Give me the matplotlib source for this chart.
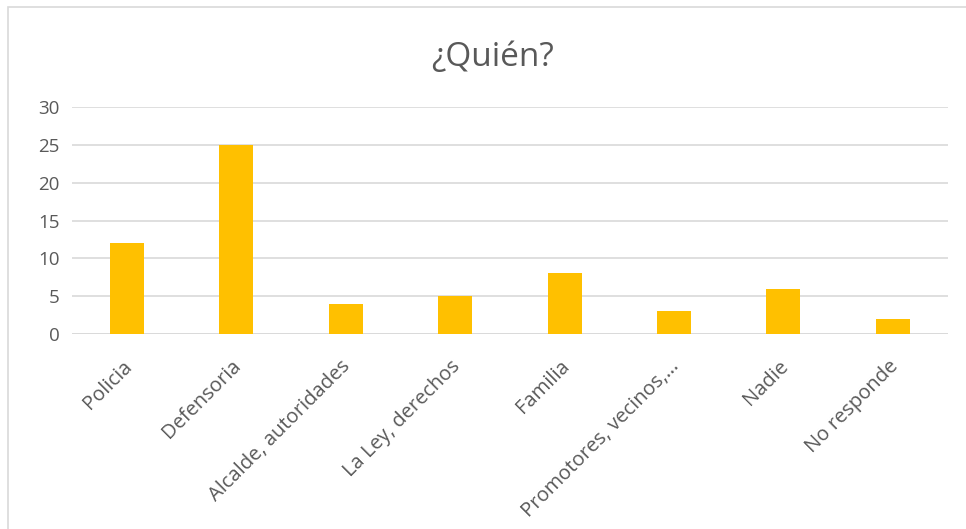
import matplotlib.pyplot as plt
import matplotlib.transforms as mtransforms
from matplotlib.patches import Rectangle

categories = ['Policia', 'Defensoria', 'Alcalde, autoridades', 'La Ley, derechos',
              'Familia', 'Promotores, vecinos,…', 'Nadie', 'No responde']
values = [12, 25, 4, 5, 8, 3, 6, 2]
yticks = [0, 5, 10, 15, 20, 25, 30]

plt.rcParams['font.family'] = ['Open Sans', 'DejaVu Sans']
text_color = '#595959'

fig = plt.figure(figsize=(9.66, 5.29), dpi=100)
ax = fig.add_axes([0.0745, 0.3686, 0.9065, 0.4291])

x = range(len(categories))
ax.bar(x, values, width=0.31, color='#FFC000', zorder=3)

ax.set_xlim(-0.5, len(categories) - 0.5)
ax.set_ylim(0, 30)
ax.set_yticks(yticks)
ax.set_xticks(list(x))
ax.set_xticklabels(categories, rotation=45, ha='right', rotation_mode='anchor')
ax.tick_params(axis='x', length=0, colors=text_color, labelsize=14.5, pad=16)
ax.tick_params(axis='y', length=0, colors=text_color, labelsize=13.5, pad=9)
# nudge rotated labels so their ends sit by the ticks
offset = mtransforms.ScaledTranslation(-5 / 100, 0, fig.dpi_scale_trans)
for lbl in ax.get_xticklabels():
    lbl.set_transform(lbl.get_transform() + offset)
ax.grid(axis='y', color='#d9d9d9', linewidth=1.2, zorder=0)
for s in ax.spines.values():
    s.set_visible(False)
ax.axhline(0, color='#d9d9d9', linewidth=1.2, zorder=2)

fig.text(0.51, 0.892, '¿Quién?', ha='center', va='center', fontsize=24, color=text_color)

# chart frame
fig.patches.append(Rectangle((8 / 966, -0.1), 1.2, 1 - 7 / 529 + 0.1,
                             transform=fig.transFigure, fill=False,
                             edgecolor='#d9d9d9', linewidth=1.2))

fig.savefig('out.png', dpi=100)
